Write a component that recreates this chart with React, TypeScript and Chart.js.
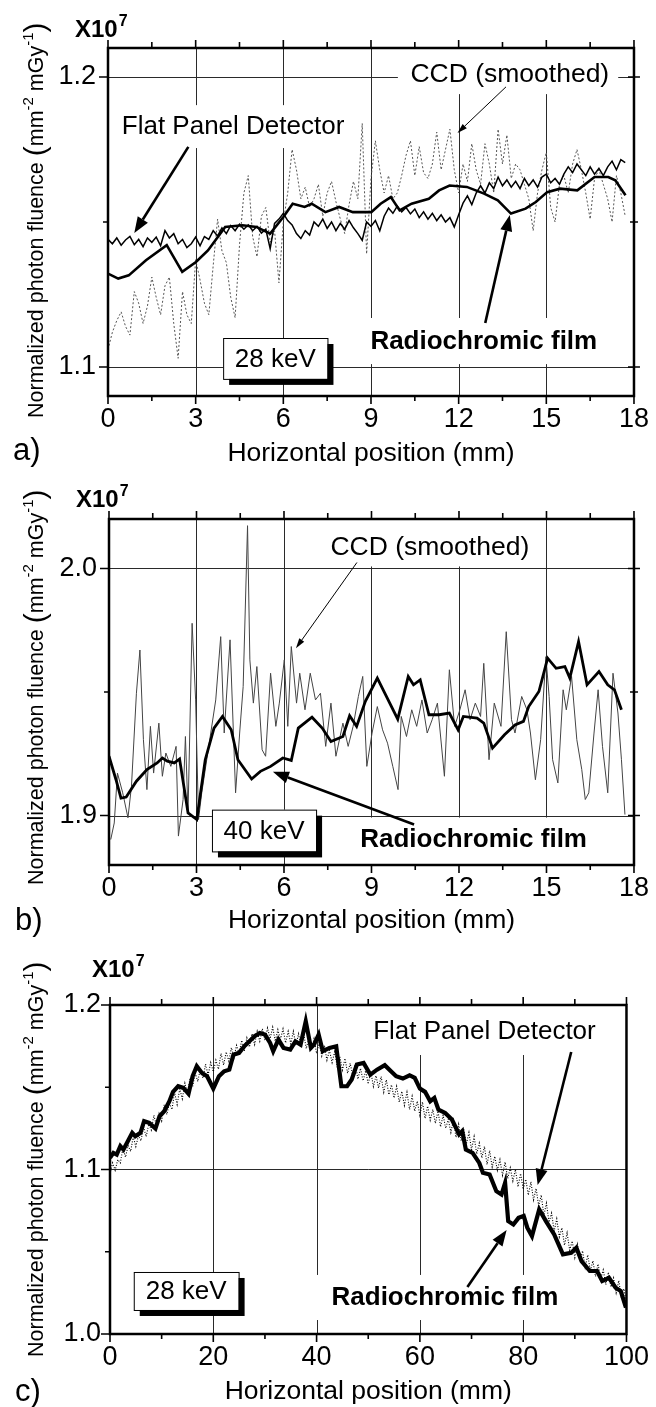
import React, { useEffect, useRef } from 'react';
import { Chart, registerables } from 'chart.js';

Chart.register(...registerables);

const FONT = '"Liberation Sans", Arial, Helvetica, sans-serif';

// ---------------- Panel a : 28 keV, 0-18 mm ----------------
const A_X_MAJOR = [0, 3, 6, 9, 12, 15, 18];
const A_X_MINOR = [1.5, 4.5, 7.5, 10.5, 13.5, 16.5];
const A_Y_MAJOR = [1.1, 1.2];
const A_Y_MINOR = [1.15];
const A_GRID_X = [3, 6, 9, 12, 15];
const A_GRID_Y = [1.1, 1.2];

const A_FILM_X = [0, 0.35, 0.71, 1.3, 2.01, 2.54, 3.01, 3.42, 4.01, 4.6, 5.08, 5.55, 6.0, 6.32, 6.73, 6.97, 7.44, 7.91, 8.38, 9.01, 9.33, 9.68, 9.98, 10.39, 10.98, 11.33, 11.69, 12.28, 12.87, 13.34, 13.79, 14.29, 14.64, 15.03, 15.47, 16.06, 16.65, 17.12, 17.36, 17.71];
const A_FILM_Y = [1.1322, 1.1305, 1.1316, 1.1368, 1.142, 1.1328, 1.1362, 1.1402, 1.1483, 1.1489, 1.1483, 1.146, 1.1517, 1.1563, 1.1552, 1.1563, 1.1534, 1.1552, 1.1534, 1.1534, 1.1563, 1.1586, 1.154, 1.1563, 1.158, 1.1609, 1.1626, 1.1621, 1.1598, 1.1575, 1.1529, 1.1546, 1.1569, 1.1603, 1.1615, 1.1609, 1.1655, 1.1655, 1.1644, 1.1592];

const A_FPD_X0 = 0;
const A_FPD_DX = 0.15;
const A_FPD_Y = [
  1.1440, 1.1425, 1.1445, 1.1420, 1.1438, 1.1450, 1.1422, 1.1440, 1.1415, 1.1445,
  1.1430, 1.1448, 1.1418, 1.1470, 1.1445, 1.1460, 1.1425, 1.1440, 1.1412, 1.1425,
  1.1448, 1.1418, 1.1450, 1.1440, 1.1470, 1.1452, 1.1480, 1.1460, 1.1488, 1.1470,
  1.1492, 1.1475, 1.1490, 1.1470, 1.1485, 1.1462, 1.1475, 1.1408, 1.1495, 1.1510,
  1.1530, 1.1505, 1.1490, 1.1460, 1.1443, 1.1470, 1.1455, 1.1500, 1.1485, 1.1510,
  1.1478, 1.1500, 1.1470, 1.1495, 1.1475, 1.1505, 1.1480, 1.1460, 1.1437, 1.1500,
  1.1485, 1.1505, 1.1470, 1.1520, 1.1548, 1.1530, 1.1555, 1.1535, 1.1550, 1.1528,
  1.1545, 1.1515, 1.1535, 1.1510, 1.1530, 1.1505, 1.1525, 1.1500, 1.1515, 1.1483,
  1.1525, 1.1565, 1.1590, 1.1560, 1.1600, 1.1625, 1.1600, 1.1635, 1.1615, 1.1655,
  1.1625, 1.1645, 1.1620, 1.1640, 1.1615, 1.1650, 1.1625, 1.1645, 1.1620, 1.1655,
  1.1665, 1.1635, 1.1650, 1.1630, 1.1665, 1.1690, 1.1670, 1.1700, 1.1680, 1.1660,
  1.1690, 1.1665, 1.1685, 1.1660, 1.1690, 1.1710, 1.1680, 1.1715, 1.1705,
];

const A_CCD_X0 = 0;
const A_CCD_DX = 0.15;
const A_CCD_Y = [
  1.106, 1.112, 1.116, 1.119, 1.114, 1.111, 1.126, 1.122, 1.115, 1.121,
  1.131, 1.124, 1.118, 1.128, 1.131, 1.115, 1.103, 1.126, 1.118, 1.115,
  1.137, 1.130, 1.122, 1.118, 1.135, 1.151, 1.140, 1.136, 1.124, 1.117,
  1.142, 1.160, 1.166, 1.145, 1.138, 1.152, 1.155, 1.143, 1.147, 1.129,
  1.150, 1.160, 1.175, 1.168, 1.158, 1.162, 1.155, 1.158, 1.163, 1.152,
  1.160, 1.164, 1.157, 1.151, 1.146, 1.156, 1.164, 1.158, 1.184, 1.139,
  1.165, 1.178, 1.168, 1.160, 1.166, 1.158, 1.160, 1.166, 1.173, 1.178,
  1.166, 1.176, 1.167, 1.165, 1.170, 1.181, 1.168, 1.175, 1.182, 1.168,
  1.160, 1.170, 1.164, 1.177, 1.168, 1.163, 1.177, 1.170, 1.160, 1.182,
  1.170, 1.180, 1.165, 1.170, 1.168, 1.163, 1.158, 1.147, 1.160, 1.168,
  1.174, 1.155, 1.150, 1.163, 1.166, 1.160, 1.170, 1.175, 1.168, 1.160,
  1.151, 1.165, 1.168, 1.163, 1.158, 1.150, 1.166, 1.160, 1.152,
];

// ---------------- Panel b : 40 keV, 0-18 mm ----------------
const B_X_MAJOR = [0, 3, 6, 9, 12, 15, 18];
const B_X_MINOR = [1.5, 4.5, 7.5, 10.5, 13.5, 16.5];
const B_Y_MAJOR = [1.9, 2.0];
const B_Y_MINOR = [1.95];
const B_GRID_X = [3, 6, 9, 12, 15];
const B_GRID_Y = [1.9, 2.0];

const B_FILM_X = [0, 0.24, 0.41, 0.59, 0.94, 1.30, 1.65, 1.83, 2.0, 2.24, 2.42, 2.71, 3.01, 3.30, 3.6, 3.89, 4.19, 4.42, 4.89, 5.19, 5.54, 5.96, 6.25, 6.49, 6.96, 7.31, 7.61, 8.02, 8.25, 8.49, 8.79, 9.2, 9.43, 9.9, 10.26, 10.44, 10.67, 10.97, 11.32, 11.67, 11.97, 12.15, 12.62, 12.85, 13.15, 13.56, 13.92, 14.21, 14.39, 14.74, 15.04, 15.33, 15.63, 15.8, 16.1, 16.39, 16.8, 17.1, 17.33, 17.57];
const B_FILM_Y = [1.924, 1.9145, 1.9071, 1.9075, 1.9139, 1.9186, 1.9213, 1.9233, 1.922, 1.9213, 1.9229, 1.9011, 1.8984, 1.9226, 1.9354, 1.9401, 1.9347, 1.9226, 1.9148, 1.9179, 1.9199, 1.9233, 1.9223, 1.9354, 1.9398, 1.9354, 1.93, 1.932, 1.9404, 1.9361, 1.9462, 1.9556, 1.9502, 1.939, 1.9563, 1.9529, 1.9549, 1.9408, 1.9408, 1.9415, 1.9347, 1.9401, 1.9394, 1.9374, 1.9273, 1.9327, 1.9367, 1.9381, 1.9441, 1.9502, 1.9637, 1.9596, 1.9603, 1.9556, 1.9704, 1.9529, 1.9583, 1.9529, 1.9509, 1.9428];

const B_CCD_X = [
  0.06, 0.18, 0.29, 0.47, 0.65, 0.77, 0.94, 1.06, 1.18, 1.30,
  1.42, 1.53, 1.71, 1.83, 1.95, 2.12, 2.30, 2.38, 2.54, 2.62,
  2.71, 2.85, 2.97, 3.07, 3.18, 3.42, 3.66, 3.83, 3.95, 4.15,
  4.34, 4.48, 4.60, 4.75, 4.83, 4.95, 5.07, 5.25, 5.37, 5.54,
  5.72, 5.84, 6.01, 6.13, 6.25, 6.43, 6.54, 6.72, 6.90, 7.08,
  7.25, 7.43, 7.61, 7.78, 8.02, 8.20, 8.37, 8.55, 8.70, 8.84,
  9.02, 9.20, 9.38, 9.55, 9.73, 9.91, 10.02, 10.20, 10.38, 10.55,
  10.73, 10.91, 11.08, 11.26, 11.50, 11.67, 11.85, 12.03, 12.21, 12.38,
  12.56, 12.74, 12.85, 13.03, 13.21, 13.44, 13.62, 13.80, 13.92, 14.15,
  14.33, 14.45, 14.62, 14.80, 14.98, 15.09, 15.21, 15.39, 15.57, 15.68,
  15.86, 16.04, 16.21, 16.33, 16.45, 16.63, 16.77, 16.92, 17.10, 17.28,
  17.45, 17.57, 17.69,
];
const B_CCD_Y = [
  1.8903, 1.8970, 1.9172, 1.9092, 1.8991, 1.9118, 1.9495, 1.9670, 1.9307, 1.9105,
  1.9361, 1.9172, 1.9374, 1.9159, 1.9253, 1.9199, 1.9280, 1.8917, 1.9065, 1.9320,
  1.9011, 1.9778, 1.9468, 1.8984, 1.9092, 1.9280, 1.9468, 1.9724, 1.9334, 1.9711,
  1.9092, 1.9334, 1.9522, 2.0173, 1.9630, 1.9455, 1.9603, 1.9266, 1.9240, 1.9576,
  1.9361, 1.9455, 1.9630, 1.9361, 1.9684, 1.9455, 1.9576, 1.9428, 1.9576, 1.9468,
  1.9495, 1.9280, 1.9455, 1.9240, 1.9374, 1.9280, 1.9361, 1.9482, 1.9563, 1.9199,
  1.9334, 1.9441, 1.9347, 1.9293, 1.9199, 1.9105, 1.9401, 1.9320, 1.9428, 1.9361,
  1.9468, 1.9334, 1.9388, 1.9455, 1.9159, 1.9590, 1.9361, 1.9428, 1.9509, 1.9388,
  1.9455, 1.9401, 1.9616, 1.9226, 1.9455, 1.9361, 1.9744, 1.9388, 1.9334, 1.9482,
  1.9428, 1.9334, 1.9145, 1.9307, 1.9643, 1.9482, 1.9226, 1.9132, 1.9509, 1.9428,
  1.9563, 1.9307, 1.9186, 1.9065, 1.9092, 1.9334, 1.9509, 1.9280, 1.9092, 1.9576,
  1.9415, 1.9226, 1.9004,
];

// ---------------- Panel c : 28 keV, 0-100 mm ----------------
const C_X_MAJOR = [0, 20, 40, 60, 80, 100];
const C_X_MINOR = [10, 30, 50, 70, 90];
const C_Y_MAJOR = [1.0, 1.1, 1.2];
const C_Y_MINOR = [1.05, 1.15];
const C_GRID_X = [20, 40, 60, 80];
const C_GRID_Y = [1.1];

const C_FILM_X = [
  0, 0.66, 1.3, 2.0, 2.6, 3.3, 4.3, 4.9, 5.9, 6.6,
  7.6, 8.8, 9.6, 10.5, 11.5, 12.2, 13.2, 14.2, 15.2, 16.0,
  16.8, 17.8, 18.8, 20.0, 21.1, 22.1, 23.1, 23.9, 25.0, 26.0,
  27.0, 28.0, 29.0, 30.0, 31.0, 31.6, 32.6, 33.6, 34.9, 35.9,
  36.9, 37.9, 38.9, 39.5, 40.4, 41.2, 42.5, 43.8, 44.8, 45.9,
  46.8, 47.8, 49.1, 50.4, 51.7, 53.2, 54.4, 55.4, 56.7, 58.0,
  59.0, 60.0, 61.0, 62.0, 62.8, 63.6, 64.9, 66.2, 67.6, 68.2,
  68.9, 70.2, 71.5, 72.2, 73.5, 74.8, 75.8, 76.5, 77.1, 78.1,
  79.1, 80.1, 80.8, 81.7, 83.1, 84.4, 86.0, 87.7, 89.3, 90.3,
  91.3, 92.9, 94.3, 95.3, 96.6, 97.9, 98.9, 99.9,
];
const C_FILM_Y = [
  1.1071, 1.1101, 1.1091, 1.1142, 1.1121, 1.1162, 1.1223, 1.1202, 1.1223, 1.1294,
  1.1283, 1.1249, 1.1324, 1.1354, 1.1415, 1.1472, 1.1506, 1.1496, 1.1460, 1.1567,
  1.1628, 1.1587, 1.1567, 1.1492, 1.1567, 1.1597, 1.1607, 1.1698, 1.1709, 1.1749,
  1.1779, 1.1810, 1.1830, 1.1820, 1.1769, 1.1719, 1.1790, 1.1739, 1.1729, 1.1779,
  1.1759, 1.1901, 1.1739, 1.1759, 1.1820, 1.1719, 1.1739, 1.1749, 1.1506, 1.1506,
  1.1547, 1.1638, 1.1648, 1.1577, 1.1607, 1.1634, 1.1597, 1.1567, 1.1553, 1.1573,
  1.1557, 1.1492, 1.1472, 1.1415, 1.1435, 1.1364, 1.1344, 1.1304, 1.1213, 1.1233,
  1.1121, 1.1101, 1.1040, 1.0980, 1.0970, 1.0868, 1.0848, 1.0919, 1.0686, 1.0666,
  1.0706, 1.0717, 1.0646, 1.0595, 1.0757, 1.0686, 1.0605, 1.0484, 1.0494, 1.0524,
  1.0443, 1.0383, 1.0383, 1.0322, 1.0342, 1.0281, 1.0261, 1.0160,
];

const C_FPD_X0 = 0;
const C_FPD_DX = 0.5;
const C_FPD_Y = [
  1.0975, 1.1040, 1.0995, 1.1060, 1.1040, 1.1130, 1.1075, 1.1145, 1.1110, 1.1200,
  1.1140, 1.1205, 1.1175, 1.1260, 1.1200, 1.1275, 1.1240, 1.1330, 1.1265, 1.1340,
  1.1295, 1.1395, 1.1335, 1.1405, 1.1365, 1.1470, 1.1395, 1.1490, 1.1430, 1.1525,
  1.1460, 1.1555, 1.1505, 1.1585, 1.1535, 1.1615, 1.1555, 1.1640, 1.1575, 1.1650,
  1.1595, 1.1665, 1.1610, 1.1705, 1.1635, 1.1715, 1.1660, 1.1740, 1.1680, 1.1755,
  1.1705, 1.1785, 1.1720, 1.1800, 1.1745, 1.1825, 1.1760, 1.1840, 1.1780, 1.1855,
  1.1785, 1.1860, 1.1795, 1.1865, 1.1780, 1.1850, 1.1790, 1.1855, 1.1770, 1.1840,
  1.1765, 1.1840, 1.1755, 1.1825, 1.1750, 1.1825, 1.1735, 1.1800, 1.1725, 1.1795,
  1.1705, 1.1770, 1.1690, 1.1755, 1.1665, 1.1725, 1.1650, 1.1715, 1.1625, 1.1685,
  1.1605, 1.1675, 1.1585, 1.1645, 1.1570, 1.1640, 1.1550, 1.1615, 1.1540, 1.1600,
  1.1520, 1.1595, 1.1505, 1.1570, 1.1495, 1.1565, 1.1470, 1.1545, 1.1455, 1.1515,
  1.1435, 1.1505, 1.1410, 1.1475, 1.1390, 1.1470, 1.1365, 1.1445, 1.1355, 1.1415,
  1.1330, 1.1410, 1.1310, 1.1385, 1.1300, 1.1365, 1.1280, 1.1355, 1.1260, 1.1330,
  1.1250, 1.1305, 1.1225, 1.1300, 1.1195, 1.1275, 1.1175, 1.1245, 1.1155, 1.1225,
  1.1120, 1.1200, 1.1095, 1.1160, 1.1070, 1.1140, 1.1030, 1.1115, 1.1015, 1.1080,
  1.0995, 1.1060, 1.0965, 1.1045, 1.0945, 1.1010, 1.0930, 1.1000, 1.0895, 1.0975,
  1.0880, 1.0940, 1.0845, 1.0925, 1.0815, 1.0885, 1.0780, 1.0845, 1.0720, 1.0795,
  1.0680, 1.0735, 1.0625, 1.0700, 1.0590, 1.0645, 1.0540, 1.0615, 1.0510, 1.0565,
  1.0465, 1.0545, 1.0445, 1.0505, 1.0405, 1.0480, 1.0385, 1.0445, 1.0350, 1.0425,
  1.0335, 1.0390, 1.0300, 1.0375, 1.0285, 1.0340, 1.0250, 1.0325, 1.0225, 1.0275,
  1.0185,
];

// ---------------- helpers ----------------
const pairs = (xs: number[], ys: number[]) => xs.map((x, i) => ({ x, y: ys[i] }));
const even = (x0: number, dx: number, ys: number[]) => ys.map((y, i) => ({ x: +(x0 + i * dx).toFixed(4), y }));

function arrow(ctx: CanvasRenderingContext2D, x1: number, y1: number, x2: number, y2: number, w: number, hl: number, hw: number) {
  const a = Math.atan2(y2 - y1, x2 - x1);
  const bx = x2 - hl * Math.cos(a);
  const by = y2 - hl * Math.sin(a);
  ctx.lineWidth = w;
  ctx.beginPath();
  ctx.moveTo(x1, y1);
  ctx.lineTo(bx, by);
  ctx.stroke();
  ctx.beginPath();
  ctx.moveTo(x2, y2);
  ctx.lineTo(bx + hw * Math.sin(a), by - hw * Math.cos(a));
  ctx.lineTo(bx - hw * Math.sin(a), by + hw * Math.cos(a));
  ctx.closePath();
  ctx.fill();
}

function makeDeco(p: any) {
  return {
    id: 'deco_' + p.id,
    beforeDatasetsDraw(chart: any) {
      const { ctx, chartArea: ca } = chart;
      const xs = chart.scales.x;
      const ys = chart.scales.y;
      ctx.save();
      ctx.strokeStyle = '#2a2a2a';
      ctx.lineWidth = 1;
      ctx.beginPath();
      p.gridX.forEach((v: number) => {
        const px = Math.round(xs.getPixelForValue(v)) + 0.5;
        ctx.moveTo(px, ca.top);
        ctx.lineTo(px, ca.bottom);
      });
      p.gridY.forEach((v: number) => {
        const py = Math.round(ys.getPixelForValue(v)) + 0.5;
        ctx.moveTo(ca.left, py);
        ctx.lineTo(ca.right, py);
      });
      ctx.stroke();
      ctx.fillStyle = '#fff';
      p.covers.forEach((c: number[]) => {
        const x1 = xs.getPixelForValue(c[0]);
        const x2 = xs.getPixelForValue(c[1]);
        const y1 = ys.getPixelForValue(c[2]);
        const y2 = ys.getPixelForValue(c[3]);
        ctx.fillRect(Math.min(x1, x2), Math.min(y1, y2), Math.abs(x2 - x1), Math.abs(y2 - y1));
      });
      ctx.restore();
    },
    afterDatasetsDraw(chart: any) {
      const { ctx, chartArea: ca } = chart;
      const xs = chart.scales.x;
      const ys = chart.scales.y;
      ctx.save();
      ctx.strokeStyle = '#000';
      ctx.fillStyle = '#000';
      // frame
      ctx.lineWidth = 2.5;
      ctx.strokeRect(ca.left, ca.top, ca.right - ca.left, ca.bottom - ca.top);
      // ticks
      ctx.lineWidth = 1.6;
      ctx.beginPath();
      p.xMajor.forEach((v: number) => {
        const px = xs.getPixelForValue(v);
        ctx.moveTo(px, ca.top); ctx.lineTo(px, ca.top - 8);
        ctx.moveTo(px, ca.bottom); ctx.lineTo(px, ca.bottom + 8);
      });
      p.xMinor.forEach((v: number) => {
        const px = xs.getPixelForValue(v);
        ctx.moveTo(px, ca.top); ctx.lineTo(px, ca.top - 6);
        ctx.moveTo(px, ca.bottom); ctx.lineTo(px, ca.bottom + 5);
      });
      p.yMajor.forEach((v: number) => {
        const py = ys.getPixelForValue(v);
        ctx.moveTo(ca.left - 9, py); ctx.lineTo(ca.left, py);
        if (p.rightTicks) { ctx.moveTo(ca.right - 6, py); ctx.lineTo(ca.right + 6, py); }
      });
      p.yMinor.forEach((v: number) => {
        const py = ys.getPixelForValue(v);
        ctx.moveTo(ca.left - 5, py); ctx.lineTo(ca.left, py);
        if (p.rightTicks) { ctx.moveTo(ca.right - 4, py); ctx.lineTo(ca.right + 4, py); }
      });
      ctx.stroke();

      // energy box
      const b = p.box;
      const bx1 = xs.getPixelForValue(b.x0);
      const bx2 = xs.getPixelForValue(b.x1);
      const by1 = ys.getPixelForValue(b.y1);
      const by2 = ys.getPixelForValue(b.y0);
      ctx.fillStyle = '#000';
      ctx.fillRect(bx1 + 6, by1 + 6, bx2 - bx1, by2 - by1);
      ctx.fillStyle = '#fff';
      ctx.fillRect(bx1, by1, bx2 - bx1, by2 - by1);
      ctx.lineWidth = 1;
      ctx.strokeRect(bx1 + 0.5, by1 + 0.5, bx2 - bx1, by2 - by1);
      ctx.fillStyle = '#000';
      ctx.textAlign = 'center';
      ctx.textBaseline = 'middle';
      ctx.font = `26px ${FONT}`;
      ctx.fillText(b.t, (bx1 + bx2) / 2, (by1 + by2) / 2 + 1);

      // annotation texts
      p.texts.forEach((t: any) => {
        ctx.font = `${t.bold ? 'bold ' : ''}${t.size}px ${FONT}`;
        ctx.fillText(t.t, xs.getPixelForValue(t.x), ys.getPixelForValue(t.y));
      });

      // arrows
      p.arrows.forEach((a: any) => {
        arrow(ctx, xs.getPixelForValue(a.x1), ys.getPixelForValue(a.y1), xs.getPixelForValue(a.x2), ys.getPixelForValue(a.y2), a.w, a.hl, a.hw);
      });

      // outside texts
      ctx.textAlign = 'left';
      ctx.textBaseline = 'alphabetic';
      ctx.font = `bold 24px ${FONT}`;
      ctx.fillText('X10', p.mult.x, p.mult.y);
      const mw = ctx.measureText('X10').width;
      ctx.font = `bold 16px ${FONT}`;
      ctx.fillText('7', p.mult.x + mw + 1, p.mult.y - 11);

      ctx.font = `31px ${FONT}`;
      ctx.fillText(p.letter.t, p.letter.x, p.letter.y);

      ctx.textAlign = 'center';
      ctx.font = `26.5px ${FONT}`;
      ctx.fillText('Horizontal position (mm)', (ca.left + ca.right) / 2, p.xTitleY);

      // y title (rotated)
      ctx.save();
      ctx.translate(p.yTitle.x, p.yTitle.y);
      ctx.rotate(-Math.PI / 2);
      ctx.textAlign = 'left';
      let cx = 0;
      const seg = (s: string, size: number, dy: number) => {
        ctx.font = `${size}px ${FONT}`;
        ctx.fillText(s, cx, dy);
        cx += ctx.measureText(s).width;
      };
      seg('Normalized photon fluence ', 21.5, 0);
      seg('(', 30, 2);
      seg('mm', 21.5, 0);
      seg('-2', 15, -10);
      seg(' mGy', 21.5, 0);
      seg('-1', 15, -10);
      seg(')', 30, 2);
      ctx.restore();

      ctx.restore();
    },
  };
}

const THICK = { w: 2.6, hl: 16, hw: 6 };
const THIN = { w: 1, hl: 10, hw: 3 };

const PANELS: any[] = [
  {
    id: 'a', top: 0, h: 470,
    area: { left: 108, right: 638, top: 48, bottom: 396 },
    xMin: 0, xMax: 18, yMin: 1.09, yMax: 1.21, yPad: 12,
    xMajor: A_X_MAJOR, xMinor: A_X_MINOR, yMajor: A_Y_MAJOR, yMinor: A_Y_MINOR,
    gridX: A_GRID_X, gridY: A_GRID_Y, rightTicks: true,
    covers: [[9.92, 17.46, 1.21, 1.1941], [0.34, 8.22, 1.1903, 1.1755], [8.56, 17.12, 1.1169, 1.101]],
    texts: [
      { t: 'Flat Panel Detector', x: 4.28, y: 1.1828, size: 26 },
      { t: 'CCD (smoothed)', x: 13.75, y: 1.2007, size: 26.5 },
      { t: 'Radiochromic film', x: 12.86, y: 1.1086, size: 26, bold: true },
    ],
    box: { t: '28 keV', x0: 3.94, x1: 7.51, y0: 1.0959, y1: 1.11 },
    arrows: [
      { x1: 2.75, y1: 1.1759, x2: 0.90, y2: 1.1462, ...THICK },
      { x1: 13.62, y1: 1.1966, x2: 11.96, y2: 1.1807, ...THIN },
      { x1: 12.91, y1: 1.1152, x2: 13.75, y2: 1.1524, ...THICK },
    ],
    mult: { x: 75, y: 37 }, letter: { t: 'a)', x: 13, y: 460 }, xTitleY: 461, yTitle: { x: 43, y: 418 },
    datasets: [
      { label: 'Radiochromic film', data: pairs(A_FILM_X, A_FILM_Y), borderColor: '#000', borderWidth: 2.6 },
      { label: 'Flat Panel Detector', data: even(A_FPD_X0, A_FPD_DX, A_FPD_Y), borderColor: '#000', borderWidth: 1.5 },
      { label: 'CCD (smoothed)', data: even(A_CCD_X0, A_CCD_DX, A_CCD_Y), borderColor: '#555', borderWidth: 1, borderDash: [2, 2] },
    ],
  },
  {
    id: 'b', top: 470, h: 470,
    area: { left: 109, right: 634, top: 49, bottom: 395 },
    xMin: 0, xMax: 18, yMin: 1.88, yMax: 2.02, yPad: 12,
    xMajor: B_X_MAJOR, xMinor: B_X_MINOR, yMajor: B_Y_MAJOR, yMinor: B_Y_MINOR,
    gridX: B_GRID_X, gridY: B_GRID_Y, rightTicks: true,
    covers: [[7.06, 14.78, 2.02, 2.0008], [8.26, 16.83, 1.8992, 1.88]],
    texts: [
      { t: 'CCD (smoothed)', x: 11.0, y: 2.0085, size: 26.5 },
      { t: 'Radiochromic film', x: 12.5, y: 1.8903, size: 26, bold: true },
    ],
    box: { t: '40 keV', x0: 3.53, x1: 7.10, y0: 1.8855, y1: 1.9024 },
    arrows: [
      { x1: 8.50, y1: 2.0024, x2: 6.41, y2: 1.9677, ...THIN },
      { x1: 10.46, y1: 1.8964, x2: 5.62, y2: 1.9177, ...THICK },
    ],
    mult: { x: 76, y: 37 }, letter: { t: 'b)', x: 15, y: 460 }, xTitleY: 458, yTitle: { x: 43, y: 415 },
    datasets: [
      { label: 'Radiochromic film', data: pairs(B_FILM_X, B_FILM_Y), borderColor: '#000', borderWidth: 2.8 },
      { label: 'CCD (smoothed)', data: pairs(B_CCD_X, B_CCD_Y), borderColor: '#444', borderWidth: 1 },
    ],
  },
  {
    id: 'c', top: 940, h: 467,
    area: { left: 110, right: 632, top: 65, bottom: 394 },
    xMin: 0, xMax: 100, yMin: 1.0, yMax: 1.2, yPad: 9,
    xMajor: C_X_MAJOR, xMinor: C_X_MINOR, yMajor: C_Y_MAJOR, yMinor: C_Y_MINOR,
    gridX: C_GRID_X, gridY: C_GRID_Y, rightTicks: false,
    covers: [[48.9, 96.7, 1.2, 1.1696], [39.3, 89.1, 1.0359, 1.0085]],
    texts: [
      { t: 'Flat Panel Detector', x: 72.5, y: 1.1836, size: 26 },
      { t: 'Radiochromic film', x: 64.85, y: 1.0219, size: 26, bold: true },
    ],
    box: { t: '28 keV', x0: 4.6, x1: 24.9, y0: 1.0146, y1: 1.0377 },
    arrows: [
      { x1: 89.3, y1: 1.1714, x2: 82.8, y2: 1.0906, ...THICK },
      { x1: 69.2, y1: 1.0286, x2: 76.8, y2: 1.0632, ...THICK },
    ],
    mult: { x: 92, y: 37 }, letter: { t: 'c)', x: 15, y: 461 }, xTitleY: 459, yTitle: { x: 43, y: 417 },
    datasets: [
      { label: 'Radiochromic film', data: pairs(C_FILM_X, C_FILM_Y), borderColor: '#000', borderWidth: 4.2 },
      { label: 'Flat Panel Detector', data: even(C_FPD_X0, C_FPD_DX, C_FPD_Y), borderColor: '#000', borderWidth: 1.1, borderDash: [1, 1.6] },
    ],
  },
];

function makeConfig(p: any): any {
  const tickFont = { family: FONT, size: 27 };
  return {
    type: 'line',
    data: { datasets: p.datasets.map((d: any) => ({ ...d, pointRadius: 0, tension: 0, fill: false })) },
    options: {
      animation: false,
      responsive: false,
      devicePixelRatio: 1,
      events: [],
      layout: { padding: { top: p.area.top, right: 656 - p.area.right, left: 0, bottom: 0 } },
      plugins: { legend: { display: false }, tooltip: { enabled: false } },
      scales: {
        x: {
          type: 'linear', min: p.xMin, max: p.xMax,
          afterBuildTicks: (s: any) => { s.ticks = p.xMajor.map((v: number) => ({ value: v })); },
          afterFit: (s: any) => { s.height = p.h - p.area.bottom; },
          ticks: { color: '#000', font: tickFont, padding: 7, maxRotation: 0, autoSkip: false, callback: (v: any) => String(v) },
          grid: { display: false, drawTicks: false },
          border: { display: false },
        },
        y: {
          type: 'linear', min: p.yMin, max: p.yMax,
          afterBuildTicks: (s: any) => { s.ticks = p.yMajor.map((v: number) => ({ value: v })); },
          afterFit: (s: any) => { s.width = p.area.left; },
          ticks: { color: '#000', font: tickFont, padding: p.yPad, autoSkip: false, callback: (v: any) => Number(v).toFixed(1) },
          grid: { display: false, drawTicks: false },
          border: { display: false },
        },
      },
    },
    plugins: [makeDeco(p)],
  };
}

function Panel({ p }: { p: any }) {
  const ref = useRef<HTMLCanvasElement>(null);
  useEffect(() => {
    const chart = new Chart(ref.current as HTMLCanvasElement, makeConfig(p));
    return () => chart.destroy();
  }, []);
  return (
    <canvas
      ref={ref}
      width={656}
      height={p.h}
      style={{ position: 'absolute', left: 0, top: p.top, width: 656, height: p.h }}
    />
  );
}

export default function App() {
  return (
    <div style={{ position: 'absolute', left: 0, top: 0, width: 656, height: 1407, background: '#fff' }}>
      {PANELS.map((p) => <Panel key={p.id} p={p} />)}
    </div>
  );
}
